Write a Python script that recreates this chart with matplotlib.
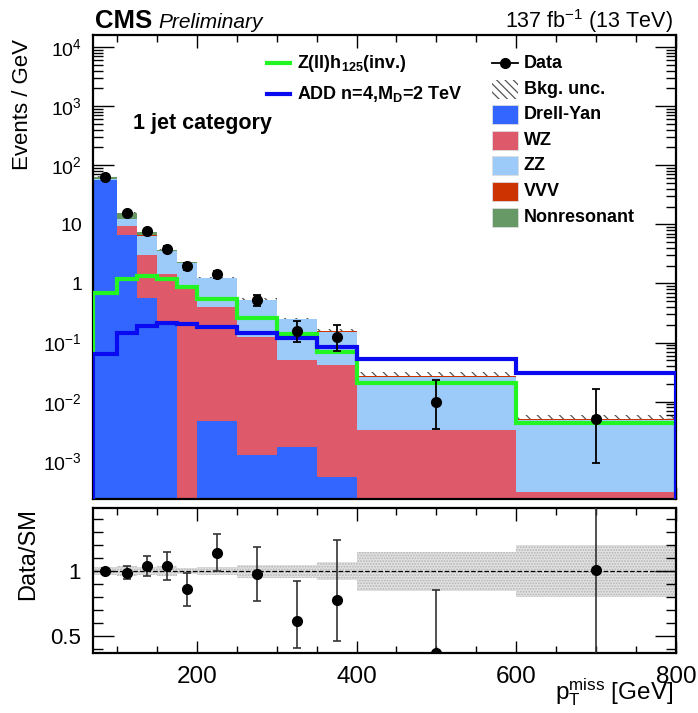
import numpy as np
import matplotlib
matplotlib.use('Agg')
import matplotlib.pyplot as plt
from matplotlib.patches import Rectangle
from matplotlib.lines import Line2D
from matplotlib.ticker import MultipleLocator, LogLocator, FuncFormatter, NullFormatter

plt.rcParams['font.family'] = ['Liberation Sans', 'DejaVu Sans']
plt.rcParams['mathtext.fontset'] = 'custom'
plt.rcParams['mathtext.rm'] = 'Liberation Sans'
plt.rcParams['mathtext.it'] = 'Liberation Sans:italic'
plt.rcParams['mathtext.bf'] = 'Liberation Sans:bold'
plt.rcParams['hatch.linewidth'] = 0.9

# ---------------- data ----------------
bin_edges = [70, 100, 125, 150, 175, 200, 250, 300, 350, 400, 600, 800]
drell_yan = [55.6, 6.5, 0.56, 0.20, 0.0, 0.0047, 0.00126, 0.00168, 0.00053, 0.0, 0.0]
wz = [1.0, 2.8, 2.53, 1.22, 0.88, 0.40, 0.124, 0.050, 0.042, 0.0033, 0.0003]
zz = [2.0, 3.2, 3.38, 2.12, 1.32, 0.835, 0.40, 0.195, 0.111, 0.0233, 0.0046]
vvv = [0.05, 0.05, 0.03, 0.02, 0.02, 0.01, 0.006, 0.004, 0.003, 0.0005, 0.00013]
nonresonant = [4.35, 3.25, 0.85, 0.16, 0.06, 0.01, 0.004, 0.002, 0.001, 0.0001, 0.00001]
bkg_unc_rel = [0.03, 0.04, 0.03, 0.04, 0.025, 0.03, 0.05, 0.05, 0.07, 0.15, 0.20]
data = [63.0, 15.6, 7.64, 3.87, 1.96, 1.44, 0.523, 0.156, 0.122, 0.0099, 0.0051]
data_err_lo = [1.45, 0.78, 0.57, 0.41, 0.29, 0.18, 0.11, 0.053, 0.049, 0.0064, 0.0042]
data_err_hi = [1.45, 0.78, 0.57, 0.41, 0.29, 0.18, 0.11, 0.078, 0.074, 0.0134, 0.0111]
signal_zh = [0.70, 1.20, 1.33, 1.17, 0.88, 0.537, 0.263, 0.137, 0.070, 0.021, 0.0043]
signal_add = [0.063, 0.147, 0.19, 0.211, 0.203, 0.186, 0.147, 0.121, 0.085, 0.052, 0.031]

labels = ['Drell-Yan', 'WZ', 'ZZ', 'VVV', 'Nonresonant']
colors = ['#3366ff', '#de5a6a', '#9ccbfa', '#cc3300', '#669966']

# ---------------- figure ----------------
W, H = 698, 713
fig = plt.figure(figsize=(W / 100, H / 100), dpi=100)
L, R = 93, 676
ax = fig.add_axes([L / W, 1 - 498.5 / H, (R - L) / W, (498.5 - 35) / H])
rax = fig.add_axes([L / W, 1 - 653.3 / H, (R - L) / W, (653.3 - 507.7) / H])

edges = np.array(bin_edges, float)
centers = 0.5 * (edges[1:] + edges[:-1])
comps = np.array([drell_yan, wz, zz, vvv, nonresonant], float)
cum = np.cumsum(comps, axis=0)
total = cum[-1]
unc = np.array(bkg_unc_rel)
floor = 1e-7

# uncertainty band (drawn beneath stack so only upper half shows)
ax.stairs(total * (1 + unc), edges, baseline=total * (1 - unc), fill=True,
          facecolor='none', edgecolor='#555555', hatch='\\\\\\', lw=0, zorder=1)
for i in range(len(comps)):
    lower = cum[i - 1] if i > 0 else np.zeros_like(total)
    ax.stairs(np.maximum(cum[i], floor), edges, baseline=np.maximum(lower, floor),
              fill=True, color=colors[i], lw=0, zorder=2)

ax.stairs(signal_zh, edges, baseline=floor, color='#22f522', lw=3, zorder=4)
ax.stairs(signal_add, edges, baseline=floor, color='#0a0af0', lw=3, zorder=4)

ax.errorbar(centers, data, yerr=[data_err_lo, data_err_hi], fmt='o', color='black',
            ms=7, capsize=3, elinewidth=1.3, capthick=1.3, zorder=6)

ax.set_xlim(70, 800)
ax.set_yscale('log')
ax.set_ylim(2.3e-4, 1.6e4)

def logfmt(v, pos):
    e = int(round(np.log10(v)))
    if e == 0:
        return '1'
    if e == 1:
        return '10'
    return r'$10^{%d}$' % e

ax.yaxis.set_major_locator(LogLocator(base=10, numticks=30))
ax.yaxis.set_minor_locator(LogLocator(base=10, subs=np.arange(2, 10), numticks=30))
ax.yaxis.set_major_formatter(FuncFormatter(logfmt))
ax.yaxis.set_minor_formatter(NullFormatter())
for a in (ax, rax):
    a.xaxis.set_major_locator(MultipleLocator(200))
    a.xaxis.set_minor_locator(MultipleLocator(50))
    a.tick_params(which='both', direction='in', top=True, right=True, width=1.0)
    a.tick_params(axis='x', which='major', length=9)
    a.tick_params(axis='x', which='minor', length=5)
    for s in a.spines.values():
        s.set_linewidth(1.6)
ax.tick_params(axis='y', which='major', length=15, labelsize=14, pad=8)
ax.tick_params(axis='y', which='minor', length=7)
ax.tick_params(axis='x', labelbottom=False)

# ---------------- ratio ----------------
ratio = np.array(data) / total
r_lo = np.array(data_err_lo) / total
r_hi = np.array(data_err_hi) / total
rax.stairs(1 + unc, edges, baseline=1 - unc, fill=True, facecolor='#e2e2e2',
           edgecolor='#b5b5b5', hatch='......', lw=0, zorder=1)
rax.axhline(1.0, ls='--', color='black', lw=0.9, zorder=2)
rax.errorbar(centers, ratio, yerr=[r_lo, r_hi], fmt='o', color='black', ecolor='#333333',
             ms=7, capsize=3, elinewidth=1.2, capthick=1.2, zorder=5)
rax.set_xlim(70, 800)
rax.set_ylim(0.365, 1.49)
rax.yaxis.set_major_locator(MultipleLocator(0.5))
rax.yaxis.set_minor_locator(MultipleLocator(0.1))
rax.yaxis.set_major_formatter(FuncFormatter(lambda v, p: '%g' % v))
rax.tick_params(axis='y', which='major', length=15, labelsize=16, pad=9)
rax.tick_params(axis='y', which='minor', length=7)
rax.tick_params(axis='x', labelsize=17.5, pad=9)

# ---------------- texts ----------------
def fx(px):
    return (px - L) / (R - L)

def fy(py):
    return (498.5 - py) / (498.5 - 35)

fig.text(95 / W, 1 - 28.3 / H, 'CMS', fontweight='bold', fontsize=18.5, va='baseline')
fig.text(158.3 / W, 1 - 28.3 / H, 'Preliminary', style='italic', fontsize=15, va='baseline')
fig.text(673.3 / W, 1 - 28.3 / H, r'137 fb$^{-1}$ (13 TeV)', ha='right', fontsize=15.5, va='baseline')
fig.text(132.7 / W, 1 - 129.3 / H, '1 jet category', fontweight='bold', fontsize=15.5, va='baseline')
fig.text(22.8 / W, 1 - 39 / H, 'Events / GeV', rotation=90, ha='center', va='top', fontsize=16)
fig.text(28 / W, 1 - 508 / H, 'Data/SM', rotation=90, ha='center', va='top', fontsize=17)
fig.text(673.3 / W, 1 - 699.5 / H, r'$\mathrm{p}_\mathrm{T}^\mathrm{miss}$ [GeV]', ha='right',
         va='baseline', fontsize=17.5)

# left legend (signals)
for yc, col, txt in [(63.3, '#22f522', r'Z(ll)h$_{\mathbf{125}}$(inv.)'),
                     (94.3, '#0a0af0', r'ADD n=4,M$_{\mathbf{D}}$=2 TeV')]:
    ax.add_line(Line2D([fx(266.7), fx(290)], [fy(yc)] * 2, color=col, lw=3,
                       transform=ax.transAxes, clip_on=False))
    ax.text(fx(296.7), fy(yc), txt, transform=ax.transAxes, fontsize=13,
            fontweight='bold', va='center', ha='left')

# right legend
rows = [63.3, 89.3, 114.3, 140, 165.7, 191, 217.3]
bx0, bx1 = fx(491.7), fx(518.3)
bh = 19 / (498.5 - 35)
ax.add_line(Line2D([bx0, bx1], [fy(rows[0])] * 2, color='black', lw=1.3,
                   transform=ax.transAxes, clip_on=False))
ax.add_line(Line2D([(bx0 + bx1) / 2], [fy(rows[0])], color='black', marker='o', ms=7,
                   transform=ax.transAxes, clip_on=False))
ax.text(fx(524), fy(rows[0]), 'Data', transform=ax.transAxes, fontsize=13,
        fontweight='bold', va='center')
ax.add_patch(Rectangle((bx0, fy(rows[1]) - bh / 2), bx1 - bx0, bh, transform=ax.transAxes,
                       facecolor='none', edgecolor='#555555', hatch='\\\\\\\\', lw=0))
ax.text(fx(524), fy(rows[1]), 'Bkg. unc.', transform=ax.transAxes, fontsize=13,
        fontweight='bold', va='center')
for k, (lab, col) in enumerate(zip(labels, colors)):
    yc = fy(rows[k + 2])
    ax.add_patch(Rectangle((bx0, yc - bh / 2), bx1 - bx0, bh, transform=ax.transAxes,
                           facecolor=col, edgecolor='#dddddd', lw=0.6))
    ax.text(fx(524), yc, lab, transform=ax.transAxes, fontsize=13,
            fontweight='bold', va='center')

fig.savefig('out.png', dpi=100)
